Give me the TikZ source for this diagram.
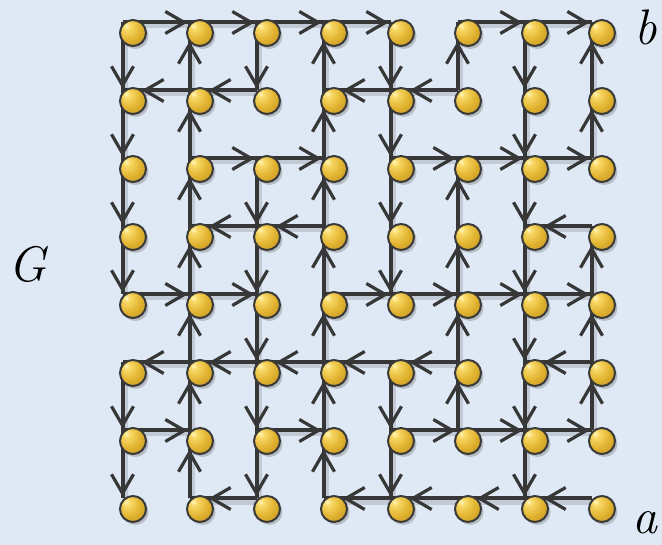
\documentclass[tikz,border=0pt]{standalone}
\usepackage{fontspec}
\usetikzlibrary{arrows.meta,shadows}
\pgfdeclarelayer{bg}
\pgfdeclarelayer{edges}
\pgfsetlayers{bg,edges,main}
\definecolor{bgblue}{RGB}{222,233,245}
\definecolor{edgegray}{RGB}{55,55,55}
\definecolor{rimgray}{RGB}{58,58,58}
\pgfdeclareradialshading{goldball}{\pgfpoint{-13bp}{14bp}}{%
  color(0bp)=(rgb,255:red,255;green,246;blue,190);
  color(7bp)=(rgb,255:red,248;green,216;blue,100);
  color(24bp)=(rgb,255:red,226;green,180;blue,50);
  color(46bp)=(rgb,255:red,190;green,142;blue,28);
  color(66bp)=(rgb,255:red,135;green,95;blue,15);
  color(100bp)=(rgb,255:red,135;green,95;blue,15)}
\tikzset{
  ball/.style={circle, minimum size=26pt, inner sep=0pt, draw=rimgray, line width=2pt,
    shading=goldball,
    drop shadow={shadow xshift=2.5pt, shadow yshift=-3pt, opacity=0.28, fill=black!70}},
  edgeline/.style={draw=edgegray, line width=4pt, line cap=butt},
  edgetip/.style={draw=edgegray, line width=4pt, line cap=butt,
    -{Straight Barb[length=19pt,width=22pt,line width=3.2pt]}},
  edgeshadow/.style={draw=black, opacity=0.13, line width=5pt},
  lbl/.style={inner sep=0pt, anchor=base west, font=\fontsize{50}{52}\selectfont\itshape}
}
\newcommand{\ofs}[2]{([xshift=-10.5pt,yshift=10.5pt]n-#1-#2.center)}
\newcommand{\ofsh}[2]{([xshift=-8pt,yshift=7pt]n-#1-#2.center)}
\begin{document}
\begin{tikzpicture}[x=1pt,y=-1pt]
\useasboundingbox (0,0) rectangle (662,545);
\begin{pgfonlayer}{bg}
  \fill[bgblue] (0,0) rectangle (662,545);
\end{pgfonlayer}
% balls
\foreach \i in {0,...,7}{
  \foreach \j in {0,...,7}{
    \node[ball] (n-\i-\j) at ({133+67*\i},{33+68*\j}) {};
  }
}
% labels
\node[lbl] (lb) at (634,45) {b};
\node[lbl] (la) at (632,533) {a};
\node[lbl] (lg) at (8,282) {G};
% edges
\begin{pgfonlayer}{edges}
\foreach \a/\b/\c/\d in {
 0/0/1/0, 1/0/2/0, 2/0/3/0, 3/0/4/0, 5/0/6/0, 6/0/7/0,
 1/1/0/1, 2/1/1/1, 4/1/3/1, 5/1/4/1,
 1/2/2/2, 2/2/3/2, 4/2/5/2, 5/2/6/2, 6/2/7/2,
 2/3/1/3, 3/3/2/3, 7/3/6/3,
 0/4/1/4, 1/4/2/4, 3/4/4/4, 4/4/5/4, 5/4/6/4, 6/4/7/4,
 1/5/0/5, 2/5/1/5, 3/5/2/5, 4/5/3/5, 5/5/4/5, 7/5/6/5,
 0/6/1/6, 2/6/3/6, 4/6/5/6, 5/6/6/6, 6/6/7/6,
 2/7/1/7, 4/7/3/7, 5/7/4/7, 6/7/5/7, 7/7/6/7,
 0/0/0/1, 0/1/0/2, 0/2/0/3, 0/3/0/4, 0/5/0/6, 0/6/0/7,
 1/1/1/0, 1/2/1/1, 1/3/1/2, 1/4/1/3, 1/5/1/4, 1/6/1/5, 1/7/1/6,
 2/0/2/1, 2/2/2/3, 2/3/2/4, 2/4/2/5, 2/5/2/6, 2/6/2/7,
 3/1/3/0, 3/2/3/1, 3/3/3/2, 3/4/3/3, 3/5/3/4, 3/6/3/5, 3/7/3/6,
 4/0/4/1, 4/1/4/2, 4/2/4/3, 4/3/4/4, 4/5/4/6, 4/6/4/7,
 5/1/5/0, 5/3/5/2, 5/4/5/3, 5/5/5/4, 5/6/5/5,
 6/0/6/1, 6/1/6/2, 6/2/6/3, 6/3/6/4, 6/4/6/5, 6/5/6/6, 6/6/6/7,
 7/1/7/0, 7/2/7/1, 7/4/7/3, 7/5/7/4, 7/6/7/5}{
  \pgfmathsetmacro\sh{(\c<\a || \d<\b) ? 19 : 2}
  \draw[edgeshadow] \ofsh{\a}{\b} -- \ofsh{\c}{\d};
  \draw[edgeline] \ofs{\a}{\b} -- \ofs{\c}{\d};
  \draw[edgetip, shorten >=\sh pt] \ofs{\a}{\b} -- \ofs{\c}{\d};
}
\end{pgfonlayer}
\end{tikzpicture}
\end{document}
